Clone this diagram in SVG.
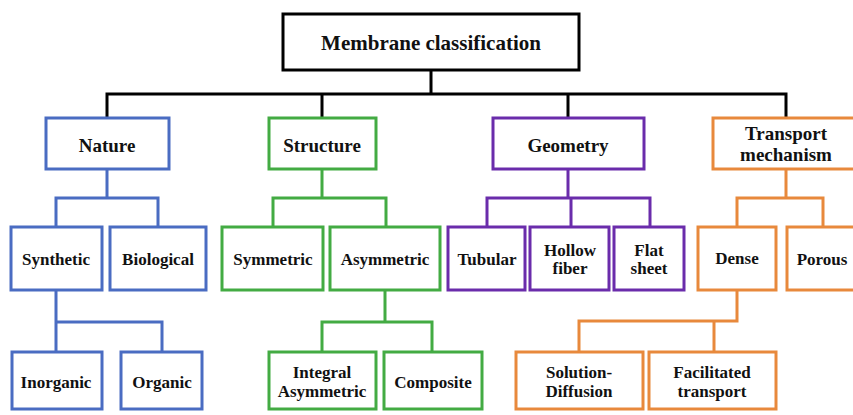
<svg xmlns="http://www.w3.org/2000/svg" width="853" height="415" viewBox="0 0 853 415">
<style>
rect{fill:#fff;stroke-width:3}
.k{stroke:#000}.b{stroke:#4a6cc2}.g{stroke:#43ab43}.p{stroke:#6a2cab}.o{stroke:#e8893c}
text{font-family:"Liberation Serif","Times New Roman",serif;font-weight:bold;fill:#111;text-anchor:middle}
.t{font-size:21px}.h{font-size:19px}.s{font-size:17px}
#connectors path{fill:none;stroke-width:3;stroke-linejoin:miter}
</style>
<rect width="853" height="415" style="fill:#fff;stroke:none"/>
<g id="connectors">
<path class="k" d="M431 70V94M107 118V94H786V118M322 94V118M568 94V118"/>
<path class="b" d="M107 169V198M56 227V198H158V227M56 291V322M56 352V322H162V352"/>
<path class="g" d="M322 169V198M273 227V198H386V227M385 290V322M322 352V322H432V352"/>
<path class="p" d="M568 169V198M487 227V198H650V227M571 198V227"/>
<path class="o" d="M786 169V198M737 227V198H823V227M737 290V321H579V352M714 321V352"/>
</g>
<g id="root"><rect class="k" x="283" y="14" width="296" height="56"/><text class="t" x="431" y="50">Membrane classification</text></g>
<g id="nature"><rect class="b" x="46" y="118" width="123" height="51"/><text class="h" x="107" y="152">Nature</text></g>
<g id="structure"><rect class="g" x="269" y="118" width="107" height="51"/><text class="h" x="322" y="152">Structure</text></g>
<g id="geometry"><rect class="p" x="493" y="118" width="151" height="51"/><text class="h" x="568" y="152">Geometry</text></g>
<g id="transport"><rect class="o" x="713" y="118" width="150" height="51"/><text class="h" x="786" y="140">Transport</text><text class="h" x="786" y="161">mechanism</text></g>
<g id="synthetic"><rect class="b" x="11" y="227" width="91" height="63"/><text class="s" x="56" y="265">Synthetic</text></g>
<g id="biological"><rect class="b" x="110" y="227" width="96" height="63"/><text class="s" x="158" y="265">Biological</text></g>
<g id="symmetric"><rect class="g" x="222" y="227" width="101" height="63"/><text class="s" x="273" y="265">Symmetric</text></g>
<g id="asymmetric"><rect class="g" x="330" y="227" width="110" height="63"/><text class="s" x="385" y="265">Asymmetric</text></g>
<g id="tubular"><rect class="p" x="448" y="227" width="77" height="63"/><text class="s" x="487" y="265">Tubular</text></g>
<g id="hollow"><rect class="p" x="530" y="227" width="79" height="63"/><text class="s" x="570" y="256">Hollow</text><text class="s" x="570" y="274">fiber</text></g>
<g id="flat"><rect class="p" x="614" y="227" width="70" height="63"/><text class="s" x="649" y="256">Flat</text><text class="s" x="649" y="274">sheet</text></g>
<g id="dense"><rect class="o" x="698" y="227" width="78" height="63"/><text class="s" x="737" y="264">Dense</text></g>
<g id="porous"><rect class="o" x="787" y="227" width="72" height="63"/><text class="s" x="822" y="265">Porous</text></g>
<g id="inorganic"><rect class="b" x="12" y="352" width="90" height="57"/><text class="s" x="56" y="388">Inorganic</text></g>
<g id="organic"><rect class="b" x="121" y="352" width="81" height="57"/><text class="s" x="162" y="388">Organic</text></g>
<g id="integral"><rect class="g" x="269" y="352" width="107" height="57"/><text class="s" x="322" y="378">Integral</text><text class="s" x="322" y="397">Asymmetric</text></g>
<g id="composite"><rect class="g" x="384" y="352" width="98" height="57"/><text class="s" x="433" y="388">Composite</text></g>
<g id="solution"><rect class="o" x="516" y="352" width="127" height="57"/><text class="s" x="579" y="378">Solution-</text><text class="s" x="579" y="397">Diffusion</text></g>
<g id="facilitated"><rect class="o" x="649" y="352" width="127" height="57"/><text class="s" x="712" y="378">Facilitated</text><text class="s" x="712" y="397">transport</text></g>
</svg>
